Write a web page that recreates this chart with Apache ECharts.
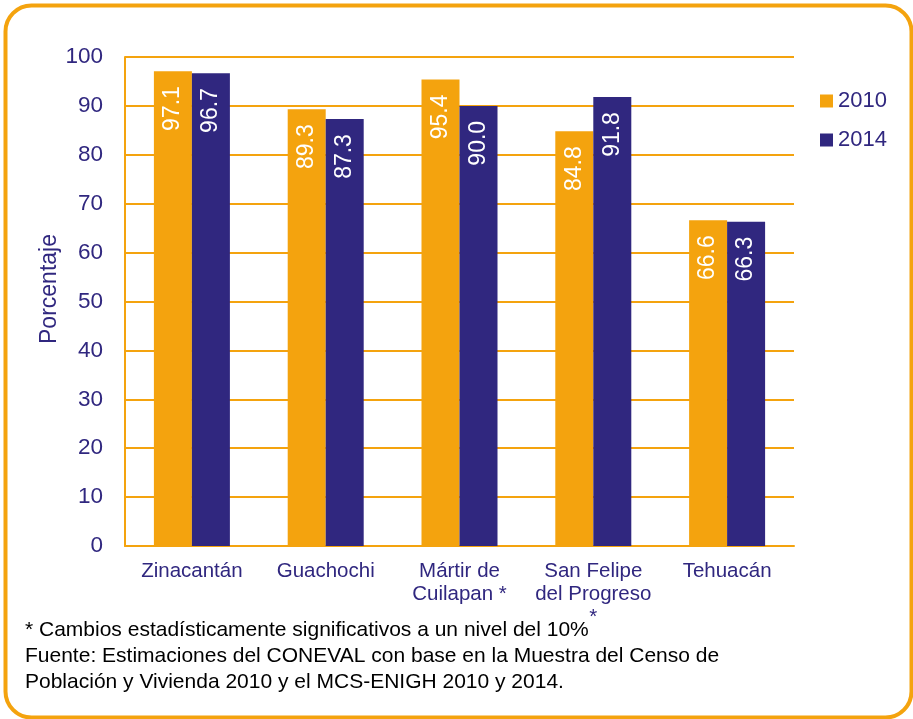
<!DOCTYPE html>
<html><head><meta charset="utf-8">
<script src="https://cdn.jsdelivr.net/npm/echarts@6/dist/echarts.min.js"></script>
<style>html,body{margin:0;padding:0;background:#fff}#c{width:913px;height:719px}</style>
</head><body><div id="c"></div>
<script>
const categories = ['Zinacantán', 'Guachochi', 'Mártir de\nCuilapan *', 'San Felipe\ndel Progreso\n*', 'Tehuacán'];
const values2010 = [97.1, 89.3, 95.4, 84.8, 66.6];
const values2014 = [96.7, 87.3, 90.0, 91.8, 66.3];
const seriesNames = ['2010', '2014'];
const yTicks = [0, 10, 20, 30, 40, 50, 60, 70, 80, 90, 100];
const footnotes = [
  '* Cambios estadísticamente significativos a un nivel del 10%',
  'Fuente: Estimaciones del CONEVAL con base en la Muestra del Censo de',
  'Población y Vivienda 2010 y el MCS-ENIGH 2010 y 2014.'
];

const ORANGE = '#F4A30E', NAVY = '#30277F';
const FONT = '"Liberation Sans", Arial, sans-serif';
const chart = echarts.init(document.getElementById('c'), null, {renderer: 'canvas'});
const lbl = {
  show: true, position: 'insideTop', distance: 15, rotate: 90, align: 'right', verticalAlign: 'middle',
  color: '#fff', fontSize: 23, fontFamily: FONT,
  formatter: p => p.value.toFixed(1)
};
chart.setOption({
  animation: false,
  textStyle: {fontFamily: FONT},
  grid: {left: 125, right: 119, top: 57, bottom: 173},
  legend: {
    orient: 'vertical', left: 820, top: 90, padding: 0, itemWidth: 13, itemHeight: 13, itemGap: 17,
    icon: 'rect', data: seriesNames,
    textStyle: {color: NAVY, fontSize: 22, fontFamily: FONT}
  },
  xAxis: {
    type: 'category', data: categories,
    axisLine: {lineStyle: {color: ORANGE, width: 2}},
    axisTick: {show: false},
    axisLabel: {color: NAVY, fontSize: 20.5, lineHeight: 23, margin: 14, interval: 0, fontFamily: FONT}
  },
  yAxis: {
    type: 'value', min: yTicks[0], max: yTicks[yTicks.length - 1], interval: 10,
    axisLine: {show: true, lineStyle: {color: ORANGE, width: 2}},
    axisTick: {show: false},
    splitLine: {lineStyle: {color: ORANGE, width: 2}},
    axisLabel: {color: NAVY, fontSize: 22.5, margin: 22, fontFamily: FONT}
  },
  series: [
    {name: seriesNames[0], type: 'bar', data: values2010, barWidth: 38, barGap: '0%',
     itemStyle: {color: ORANGE}, label: lbl},
    {name: seriesNames[1], type: 'bar', data: values2014, barWidth: 38, barGap: '0%',
     itemStyle: {color: NAVY}, label: lbl}
  ],
  graphic: [
    {type: 'rect', left: 3, top: 3, shape: {width: 906, height: 712, r: 26},
     style: {fill: 'none', stroke: ORANGE, lineWidth: 4}, z: -1},
    {type: 'text', x: 50, y: 289, rotation: Math.PI / 2,
     style: {text: 'Porcentaje', fill: NAVY, font: '23px ' + FONT, textAlign: 'center', textVerticalAlign: 'middle'}},
    {type: 'text', left: 25, top: 617,
     style: {text: footnotes.join('\n'), fill: '#000', lineHeight: 26,
       font: '21px "Liberation Sans Narrow", "Arial Narrow", ' + FONT}}
  ]
});
</script></body></html>
